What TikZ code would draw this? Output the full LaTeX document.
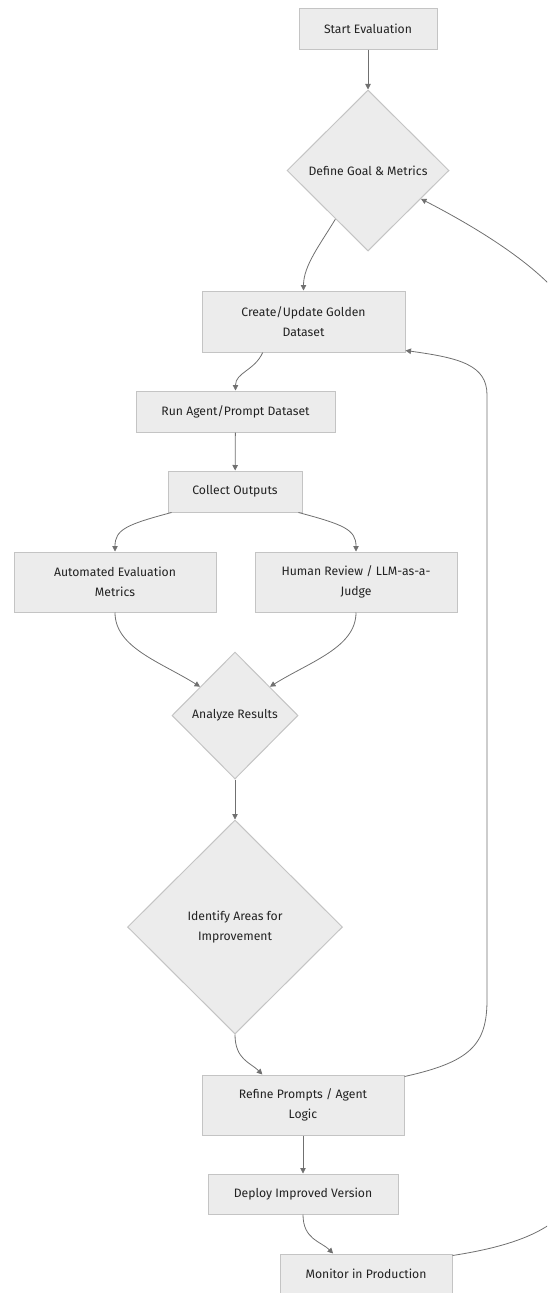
\documentclass[tikz,border=0pt]{standalone}
\usepackage{fontspec}
\setmainfont{Fira Sans}
\usetikzlibrary{shapes.geometric,arrows.meta,calc}
\definecolor{nodefill}{HTML}{ECECEC}
\definecolor{nodeline}{HTML}{C4C4C4}
\definecolor{edgeline}{HTML}{707070}
\definecolor{txt}{HTML}{222222}

\begin{document}
\begin{tikzpicture}[x=1pt,y=-1pt,
  box/.style={draw=nodeline, fill=nodefill, line width=1pt, inner sep=0pt,
    align=center, text=txt, font=\fontsize{12.2}{20}\selectfont},
  decision/.style={box, shape=diamond},
  flow/.style={draw=edgeline, line width=0.8pt,
    -{Triangle[length=5.5pt,width=5.5pt]}},
]
\useasboundingbox (0,0) rectangle (547,1293);
\clip (0,0) rectangle (547,1293);

% nodes
\node[box, minimum width=138pt, minimum height=41pt] (start) at (368,28.5) {Start Evaluation};
\node[decision, minimum width=162pt, minimum height=161pt] (def) at (368,170.5) {Define Goal \& Metrics};
\node[box, minimum width=203pt, minimum height=61pt] (create) at (303.5,321.5) {Create/Update Golden\\Dataset};
\node[box, minimum width=199pt, minimum height=41pt] (run) at (235.5,411.5) {Run Agent/Prompt Dataset};
\node[box, minimum width=134pt, minimum height=41pt] (collect) at (235,491.5) {Collect Outputs};
\node[box, minimum width=202pt, minimum height=60pt] (auto) at (115,582) {Automated Evaluation\\Metrics};
\node[box, minimum width=202pt, minimum height=60pt] (human) at (356,582) {Human Review / LLM-as-a-\\Judge};
\node[decision, minimum width=126pt, minimum height=127pt] (analyze) at (235,715.5) {Analyze Results};
\node[decision, minimum width=215pt, minimum height=214pt] (identify) at (235,927) {Identify Areas for\\Improvement};
\node[box, minimum width=202pt, minimum height=60pt] (refine) at (303,1105) {Refine Prompts / Agent\\Logic};
\node[box, minimum width=190pt, minimum height=40pt] (deploy) at (303,1194) {Deploy Improved Version};
\node[box, minimum width=172pt, minimum height=40pt] (monitor) at (366,1274) {Monitor in Production};

% connectors
\draw[flow] (start) -- (def);
\draw[flow] ($(def.south)!0.4!(def.west)$) .. controls +(-15,25) and +(0,-25) .. (create.north);
\draw[flow] ($(create.south west)!0.3!(create.south east)$) .. controls +(-8,18) and +(0,-18) .. (run.north);
\draw[flow] (run) -- (collect);
\draw[flow] ($(collect.south west)!0.03!(collect.south east)$) .. controls +(-45,12) and +(0,-22) .. (auto.north);
\draw[flow] ($(collect.south west)!0.97!(collect.south east)$) .. controls +(45,12) and +(0,-22) .. (human.north);
\draw[flow] (auto.south) .. controls +(0,35) and +(-40,-25) .. ($(analyze.north)!0.55!(analyze.west)$);
\draw[flow] (human.south) .. controls +(0,35) and +(40,-25) .. ($(analyze.north)!0.55!(analyze.east)$);
\draw[flow] (analyze) -- (identify);
\draw[flow] (identify.south) .. controls +(0,25) and +(-12,-12) .. ($(refine.north west)!0.3!(refine.north east)$);
\draw[flow] (refine) -- (deploy);
\draw[flow] (deploy.south) .. controls +(0,25) and +(-12,-12) .. ($(monitor.north west)!0.31!(monitor.north east)$);
% feedback loops
\draw[flow] ($(refine.north east)+(0,2)$) .. controls (470,1062) and (487,1045) .. (487,1000)
  -- (487,395) .. controls (487,365) and (460,358) .. ($(create.south east)+(0,-2)$);
\draw[flow] ($(monitor.north east)+(0,2)$) .. controls (520,1245) and (580,1225) .. (580,1170)
  -- (580,340) .. controls (580,300) and (520,250) .. ($(def.east)!0.35!(def.south)$);
\end{tikzpicture}
\end{document}
